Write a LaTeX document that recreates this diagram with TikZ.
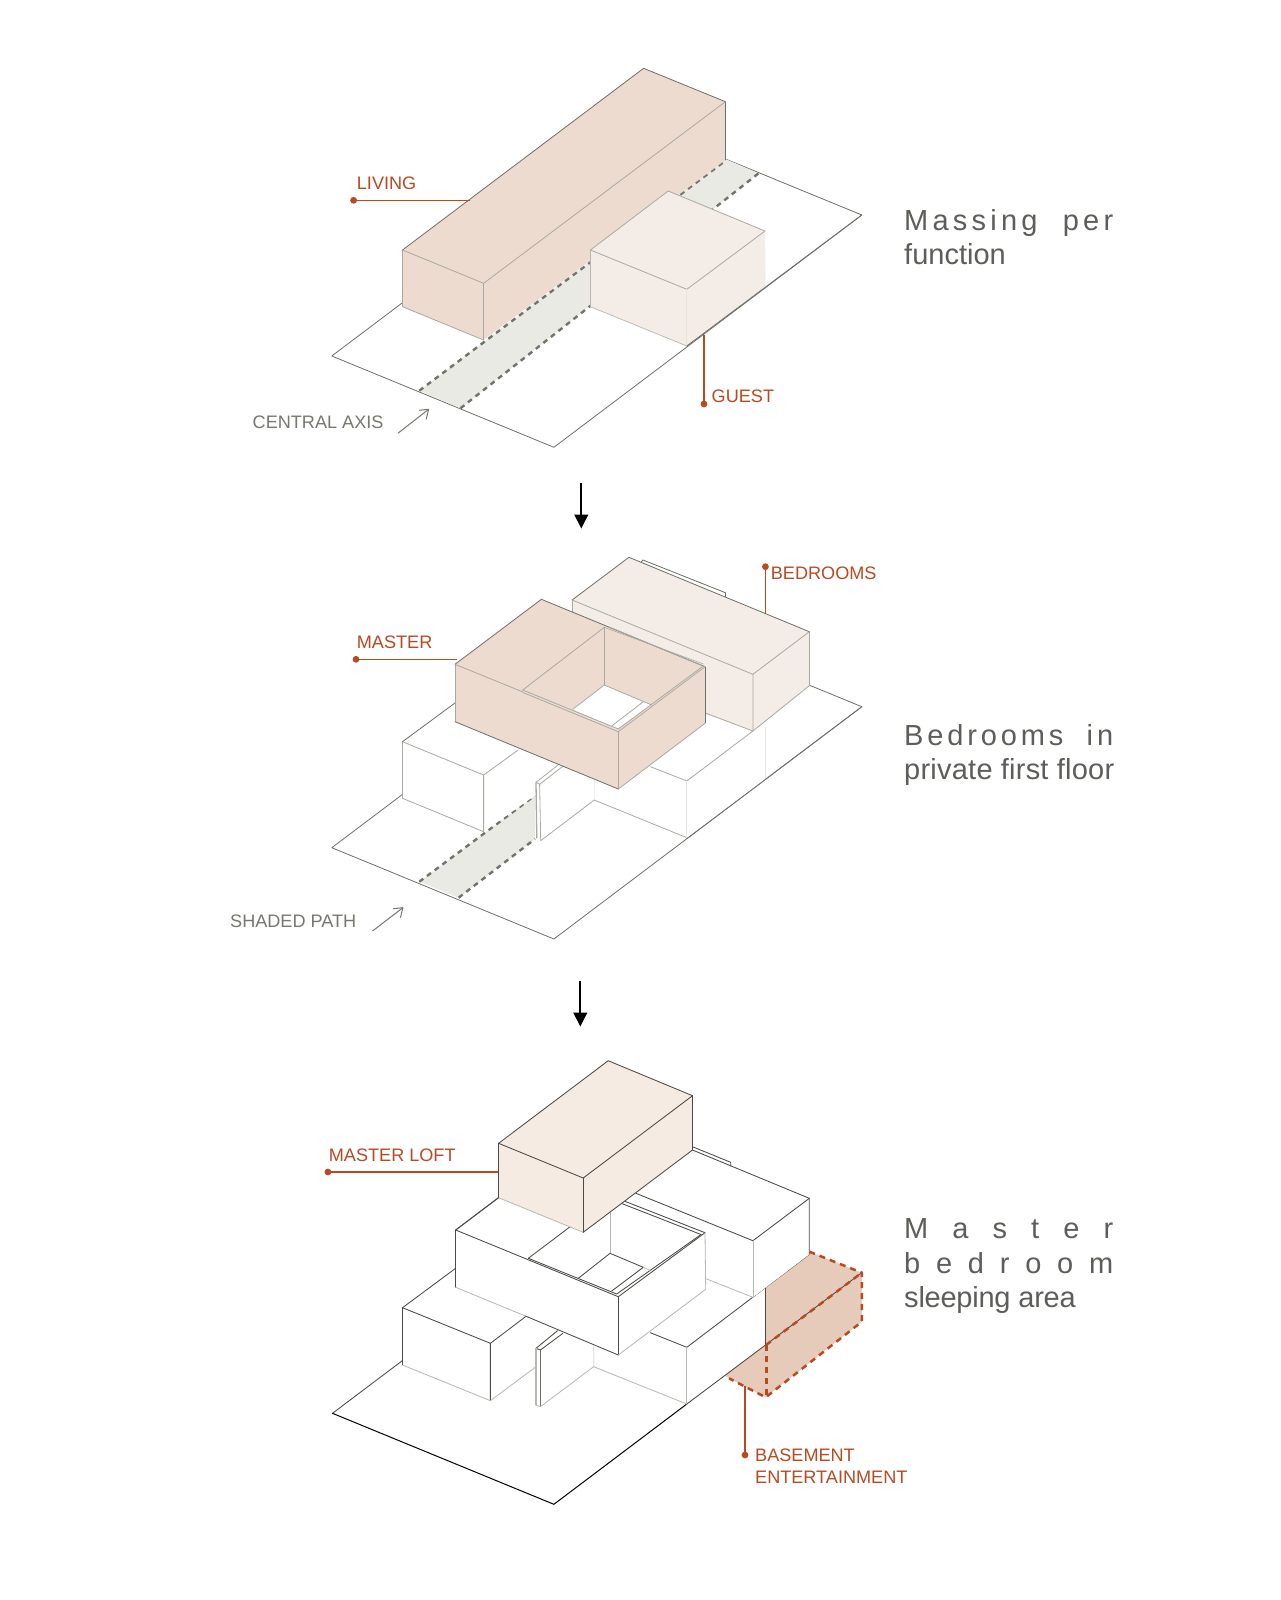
\documentclass[tikz,border=0pt]{standalone}
\usepackage{fontspec}
\setmainfont{Liberation Sans}
\definecolor{rust}{HTML}{B84A22}
\definecolor{graytext}{HTML}{77776F}
\definecolor{titletext}{HTML}{5D5D59}
\definecolor{massA}{HTML}{EDDBCF}
\definecolor{massB}{HTML}{F4ECE6}
\definecolor{massC}{HTML}{F6EBE3}
\definecolor{basefill}{HTML}{E6CBBB}
\definecolor{stripfill}{HTML}{EAEAE5}
\definecolor{dashgray}{HTML}{73736B}
\definecolor{edgeD}{HTML}{6E6E68}
\definecolor{edgeM}{HTML}{A9A9A2}
\definecolor{edgeF}{HTML}{E6E6E1}
\definecolor{edgeX}{HTML}{4A4A46}
\definecolor{edgeY}{HTML}{B8B8B0}
\tikzset{
  ed/.style={draw=edgeD,line width=.8pt,line join=round,line cap=round},
  em/.style={draw=edgeM,line width=.8pt,line join=round,line cap=round},
  ef/.style={draw=edgeF,line width=.8pt,line join=round,line cap=round},
  ex/.style={draw=edgeX,line width=.85pt,line join=round,line cap=round},
  ey/.style={draw=edgeY,line width=.8pt,line join=round,line cap=round},
  eb/.style={draw=black,line width=1pt,line join=round,line cap=round},
  pathdash/.style={draw=dashgray,line width=2.4pt,dash pattern=on 5pt off 4.6pt},
  reddash/.style={draw=rust,line width=2.5pt,dash pattern=on 6pt off 5pt},
  lab/.style={anchor=base west,inner sep=0pt,text=rust,font=\fontsize{18.1}{20}\selectfont},
  glab/.style={anchor=base west,inner sep=0pt,text=graytext,font=\fontsize{18.1}{20}\selectfont},
  ttl/.style={anchor=base west,inner sep=0pt,text=titletext,font=\fontsize{29}{34}\selectfont},
  leader/.style={draw=rust,line width=1.2pt},
  dotm/.style={fill=rust},
  ptr/.style={draw=graytext,line width=1pt},
  flow/.style={draw=black,line width=2.1pt}
}
\def\gp{\hskip 0pt plus 1fil\relax}
\def\gw#1{\hskip 0pt plus #1fil\relax}
\begin{document}
\begin{tikzpicture}[x=1pt,y=-1pt]
\useasboundingbox (0,0) rectangle (1280,1600);
\fill[white] (0,0) rectangle (1280,1600);

%% ---------- Diagram 1 ----------
\path[fill=white,ed] (331.8,356)--(553.9,447.3)--(861.8,215)--(639.8,123.8)--cycle;
\fill[stripfill] (419.3,390.7)--(460.4,408.3)--(758.6,173.3)--(725.4,159)--cycle;
\draw[pathdash] (419.3,390.7)--(725.4,160.7);
\draw[pathdash] (460.4,408.3)--(758.6,173.3);
% living
\fill[massA] (402.5,250)--(643.6,68.3)--(725.4,101.7)--(725.4,160)--(483.6,340)--(402.5,306.7)--cycle;
\draw[ed] (402.5,250)--(643.6,68.3)--(725.4,101.7)--(725.4,160);
\draw[em] (402.5,250)--(483.6,283.3)--(725.4,101.7);
\draw[em] (483.6,283.3)--(483.6,340);
\draw[em] (402.5,250)--(402.5,306.7)--(483.6,340);
% guest
\fill[massB] (590.4,250)--(668.2,191)--(765,231)--(765.7,286.7)--(686.8,346)--(590.4,306.7)--cycle;
\draw[em] (590.4,250)--(668.2,191)--(765,231)--(686.8,289.3)--cycle;
\draw[edgeY,line width=.7pt] (590.4,250)--(590.4,306.7)--(686.8,346);
\draw[ef] (686.8,289.3)--(686.8,346);
\draw[ed] (686.8,346)--(861.8,215);
% labels
\coordinate (livingdot) at (353.6,200.3);
\coordinate (livingend) at (470,200.3);
\draw[leader] (livingdot)--(livingend);
\fill[dotm] (livingdot) circle (3.4);
\node[lab] (livinglab) at (356.7,189.3) {LIVING};
\coordinate (guestdot) at (704,404);
\coordinate (guestend) at (704,335);
\draw[leader] (guestdot)--(guestend);
\fill[dotm] (guestdot) circle (3.4);
\node[lab] (guestlab) at (711.5,402.3) {GUEST};
\node[glab] (axislab) at (252.5,428) {CENTRAL AXIS};
\coordinate (axisa) at (397.9,433.3);
\coordinate (axisb) at (428.6,409.3);
\draw[ptr] (axisa)--(axisb);
\draw[ptr,line join=round] (418.8,410.3)--(axisb)--(426.2,419.3);
\node[ttl] (t1a) at (904,230) {\makebox[209pt][s]{M\gp a\gp s\gp s\gp i\gp n\gp g\gw{6}p\gp e\gp r}};
\node[ttl] (t1b) at (904,264) {function};

% flow 1
\coordinate (f1a) at (581.3,483);
\coordinate (f1b) at (581.3,518);
\draw[flow] (f1a)--(f1b);
\fill[black] (574.2,514.5)--(588.4,514.5)--(581.3,528.5)--cycle;

%% ---------- Diagram 2 ----------
\path[fill=white,ed] (331.8,847.7)--(553.9,939)--(861.8,706.7)--(639.8,615.5)--cycle;
\fill[stripfill] (419.3,881.7)--(458.6,897.7)--(535,839)--(535,795.5)--cycle;
\draw[pathdash] (419.3,881.7)--(535,795.5);
\draw[pathdash] (458.6,897.7)--(535,839);
% living (white)
\fill[white] (402.5,741.7)--(455,703)--(530,745)--(535,795.5)--(483.6,831.7)--(402.5,798.3)--cycle;
\draw[em] (402.5,741.7)--(483.6,775)--(483.6,831.7);
\draw[em] (402.5,741.7)--(402.5,798.3)--(483.6,831.7);
\draw[ed] (402.5,741.7)--(455,703);
\draw[em] (483.6,775)--(518.2,750);
% guest (white)
\fill[white] (594.3,742)--(650.4,766.7)--(686.8,781)--(752.9,731)--(765,726.7)--(765,779.6)--(686.8,837.7)--(594.3,800)--cycle;
\draw[em] (650.4,766.7)--(686.8,781)--(752.9,731);
\draw[ef] (594.3,765)--(594.3,800);
\draw[em] (594.3,800)--(686.8,837.7);
\draw[ef] (686.8,781)--(686.8,837.7);
\draw[ef] (765,726.7)--(765,779);
\draw[ed] (686.8,838.7)--(861.8,706.7);
% panel
\fill[white] (536,782.3)--(559.3,764)--(566,768)--(594.3,745)--(594.3,800)--(540.7,840.7)--(536.8,838.3)--cycle;
\draw[edgeM,line width=1.3pt] (536,782.3)--(536.8,838.3);
\draw[em] (539.6,784.3)--(540.7,840.7)--(594.3,800);
\draw[em] (536,782.3)--(539.6,784.3);
\draw[em] (536,782.3)--(559.3,764);
\draw[em] (539.6,784.3)--(562.5,766.5);
% bedrooms
\path[fill=white,ed] (641.4,561.7)--(643,560)--(725.4,592.7)--(725.4,596.7);
\fill[massB] (572.1,600)--(628.9,557.3)--(809.3,631.7)--(809.3,685.7)--(752.9,731)--(700,712)--(572.1,640)--cycle;
\draw[ed] (572.1,600)--(628.9,557.3)--(809.3,631.7);
\draw[em] (809.3,631.7)--(809.3,685.7);
\draw[em] (572.1,600)--(752.9,674.3)--(809.3,631.7);
\draw[em] (752.9,674.3)--(752.9,731)--(809.3,685.7);
\draw[em] (700,711)--(752.9,731);
\draw[em] (572.1,600)--(572.1,615);
% master
\fill[massA] (455,664.3)--(541.4,599.3)--(705,666.7)--(705,723.3)--(618.3,789)--(455,721.7)--cycle;
\fill[white] (604.3,685)--(651.7,705)--(616.7,729)--(572.7,709.3)--cycle;
\draw[ed] (455,664.3)--(541.4,599.3)--(705,666.7);
\draw[em] (455,664.3)--(523,692);
\draw[em] (522.7,690)--(604.3,627.3);
\draw[em] (604.3,627.3)--(604.3,685);
\draw[em] (604.3,685)--(651.7,705);
\draw[em] (604.3,685)--(572.7,709.3);
\draw[em] (643.3,701.7)--(611.7,726);
\draw[em] (522.7,690)--(618.3,729)--(703.3,666);
\draw[em] (523,692.5)--(618.3,731.7)--(705,666.7);
\draw[edgeM,line width=.6pt] (604.3,627.3)--(703.3,664);
\draw[em] (608,626.5)--(705,666.7);
\draw[em] (455,664.3)--(455,721.7);
\draw[ed] (455,721.7)--(618.3,789);
\draw[em] (618.3,789)--(705,723.3);
\draw[em] (618.3,731.7)--(618.3,789);
\draw[edgeD,line width=1pt] (705,666.7)--(705,723.3);
% labels
\coordinate (masterdot) at (356,659.3);
\coordinate (masterend) at (456.8,659.3);
\draw[leader] (masterdot)--(masterend);
\fill[dotm] (masterdot) circle (3.4);
\node[lab] (masterlab) at (356.7,648.7) {MASTER};
\coordinate (beddot) at (765.4,566.7);
\coordinate (bedend) at (765.4,614);
\draw[leader] (beddot)--(bedend);
\fill[dotm] (beddot) circle (3.4);
\node[lab] (bedlab) at (770.7,579.5) {BEDROOMS};
\node[glab] (pathlab) at (230,927) {SHADED PATH};
\coordinate (patha) at (372.5,931);
\coordinate (pathb) at (402.9,907.7);
\draw[ptr] (patha)--(pathb);
\draw[ptr,line join=round] (393.2,908.7)--(pathb)--(400.4,917.7);
\node[ttl] (t2a) at (904,745.7) {\makebox[209pt][s]{B\gp e\gp d\gp r\gp o\gp o\gp m\gp s\gw{6}i\gp n}};
\node[ttl] (t2b) at (904,779.3) {\addfontfeatures{LetterSpace=0.8}private first floor};

% flow 2
\coordinate (f2a) at (580.3,981);
\coordinate (f2b) at (580.3,1016);
\draw[flow] (f2a)--(f2b);
\fill[black] (573.2,1012.5)--(587.4,1012.5)--(580.3,1026.5)--cycle;

%% ---------- Diagram 3 ----------
% basement
\fill[basefill] (809.3,1251.7)--(861.8,1272.7)--(861.8,1321.7)--(765.7,1397.3)--(729,1378.3)--(725,1375.7)--(765.7,1345)--(765.7,1288.3)--(809.3,1254.3)--cycle;
% plate
\draw[ex] (402.5,1360.5)--(332.5,1413.3);
\draw[eb] (332.5,1413.3)--(553.9,1504.3)--(686.8,1404);
\draw[ex] (686.8,1404)--(861.8,1272.7);
% living
\draw[ex] (402.5,1307.7)--(490.4,1343.3)--(490.4,1400.7);
\draw[ex] (402.5,1307.7)--(402.5,1365);
\draw[ey] (402.5,1365)--(490.4,1400.7);
\draw[ey] (490.4,1400.7)--(536,1366.7);
\draw[ex] (402.5,1307.7)--(456,1268);
\draw[ex] (490.4,1343.3)--(526,1316.3);
% guest
\draw[ex] (650.4,1332.7)--(686.8,1347.3)--(809.3,1254.3);
\draw[ey] (686.8,1347.3)--(686.8,1404);
\draw[ey] (593.6,1330)--(593.6,1366.7)--(686.8,1404);
\draw[ex] (765.7,1288.3)--(765.7,1345);
% panel
\fill[white] (536,1348.3)--(557.5,1330.7)--(593.6,1345)--(593.6,1366.7)--(540.4,1406.7)--(536,1405)--cycle;
\draw[ex] (536,1348.3)--(540.4,1350);
\draw[ex] (536,1348.3)--(557.5,1330.7);
\draw[ex] (540.4,1350)--(562.9,1333.3);
\draw[ey,line width=1.2pt] (536,1348.3)--(536,1405);
\draw[edgeD,line width=1pt] (540.4,1350)--(540.4,1406.7);
\draw[ey] (536,1405)--(540.4,1406.7)--(593.6,1366.7);
% bedrooms
\path[fill=white] (692.5,1150)--(809.3,1198.3)--(809.3,1254.3)--(752.9,1297.3)--(705,1278)--(620,1190)--cycle;
\draw[ex] (692.5,1146.7)--(730.7,1162.3)--(730.7,1166);
\draw[ex] (692.5,1150)--(809.3,1198.3)--(809.3,1254.3);
\draw[ex] (636,1193.3)--(752.9,1240.7)--(809.3,1198.3);
\draw[ey] (752.9,1240.7)--(752.9,1297.3);
\draw[ey] (705,1278.3)--(752.9,1297.3);
% master
\fill[white] (455.7,1230)--(541.4,1165)--(705,1232.7)--(705.7,1289.3)--(618.3,1355)--(455.7,1287.3)--cycle;
\draw[ex] (455.7,1230)--(541.4,1165);
\draw[ex] (455.7,1230)--(618.3,1296.7)--(705,1232.7);
\draw[ex] (528.3,1258.3)--(616.7,1294)--(701,1234.5);
\draw[ex] (528.3,1258.3)--(570,1226.8);
\draw[ex] (600,1191.5)--(705,1232.7);
\draw[ex] (600,1195)--(701,1234.5);
\draw[edgeY] (610,1212)--(610,1253.3);
\draw[ex] (578.3,1278.3)--(610,1253.3)--(643.3,1267.3)--(611.7,1291);
\draw[ey] (643.3,1267.3)--(650,1270.3);
\draw[ex] (455.7,1230)--(455.7,1287.3);
\draw[ey] (455.7,1287.3)--(525.4,1316);
\draw[ex] (525.4,1316)--(618.3,1355);
\draw[ex] (618.3,1296.7)--(618.3,1355);
\draw[ey] (618.3,1355)--(705.7,1289.3)--(705,1232.7);
% loft
\fill[massC] (498.6,1143.3)--(608.2,1060.7)--(692.5,1095.7)--(692.5,1150)--(583.2,1232.3)--(498.6,1197.7)--cycle;
\draw[ex] (498.6,1143.3)--(608.2,1060.7)--(692.5,1095.7)--(692.5,1150);
\draw[ex] (498.6,1143.3)--(583.2,1178)--(692.5,1095.7);
\draw[ex] (583.2,1178)--(583.2,1232.3);
\draw[ex] (498.6,1143.3)--(498.6,1197.7);
\draw[ey] (498.6,1197.7)--(583.2,1232.3);
\draw[ex] (583.2,1232.3)--(692.5,1150);
\draw[ex] (498.6,1197.7)--(455.7,1230);
% basement lines
\draw[reddash] (809.3,1251.7)--(861.8,1272.7)--(861.8,1321.7)--(765.7,1397.3)--(729,1378.3);
\draw[reddash] (766,1345)--(861.8,1272.7);
\draw[reddash] (766.5,1345)--(766.5,1397);
% labels
\coordinate (loftdot) at (327.9,1172);
\coordinate (loftend) at (497.9,1172);
\draw[leader] (loftdot)--(loftend);
\fill[dotm] (loftdot) circle (3.4);
\node[lab] (loftlab) at (328.7,1161) {MASTER LOFT};
\coordinate (basedot) at (745,1455);
\coordinate (baseend) at (745,1386);
\draw[leader] (basedot)--(baseend);
\fill[dotm] (basedot) circle (3.4);
\node[lab] (baselab1) at (755,1461.7) {BASEMENT};
\node[lab] (baselab2) at (755,1483.3) {ENTERTAINMENT};
\node[ttl] (t3a) at (904,1238.7) {\makebox[209pt][s]{M\gp a\gp s\gp t\gp e\gp r}};
\node[ttl] (t3b) at (904,1273.3) {\makebox[209pt][s]{b\gp e\gp d\gp r\gp o\gp o\gp m}};
\node[ttl] (t3c) at (904,1307.7) {\addfontfeatures{LetterSpace=-0.8}sleeping area};
\end{tikzpicture}
\end{document}
